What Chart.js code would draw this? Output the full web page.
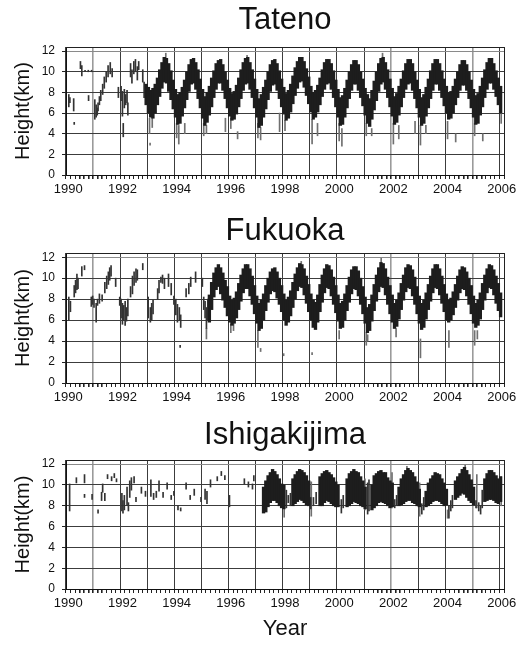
<!DOCTYPE html>
<html><head><meta charset="utf-8">
<script src="https://cdn.jsdelivr.net/npm/chart.js@4"></script>
<style>
body{margin:0;background:#fff;width:527px;height:646px;overflow:hidden;position:relative}
canvas{position:absolute;left:0}
</style></head>
<body>
<canvas id="c1" width="527" height="205" style="top:0px"></canvas>
<canvas id="c2" width="527" height="210" style="top:205px"></canvas>
<canvas id="c3" width="527" height="231" style="top:415px"></canvas>
<script>
// ---------- DATA (km) ----------
// monthly band [low, high] per year, Jan..Dec, null = no dense data
const tatenoYears = [1992,1993,1994,1995,1996,1997,1998,1999,2000,2001,2002,2003,2004,2005];
const tatenoLow = [
 [null,null,null,null,null,null,null,null,null,null,6.8,6.0],
 [5.6,5.5,6.0,6.8,7.6,8.4,9.0,8.9,8.1,7.3,6.4,5.6],
 [4.9,5.0,5.7,6.5,7.3,8.1,8.8,8.9,8.3,7.4,6.5,5.5],
 [4.8,5.1,5.8,6.6,7.5,8.3,8.9,8.9,8.2,7.4,6.5,5.7],
 [5.3,5.4,5.9,6.6,7.4,8.2,8.8,8.9,8.3,7.5,6.5,5.6],
 [4.6,4.8,5.6,6.4,7.3,8.1,8.7,8.8,8.2,7.4,6.6,5.9],
 [5.3,5.5,6.1,6.9,7.7,8.4,9.0,9.1,8.5,7.7,6.9,6.1],
 [5.4,5.6,6.1,6.8,7.6,8.3,8.8,8.9,8.3,7.5,6.6,5.6],
 [4.8,4.9,5.6,6.5,7.4,8.2,8.8,8.8,8.2,7.5,6.7,5.8],
 [5.0,4.7,5.4,6.3,7.2,8.1,8.8,9.0,8.3,7.5,6.6,5.7],
 [4.9,5.1,5.8,6.6,7.5,8.3,8.8,8.9,8.2,7.4,6.5,5.6],
 [4.8,5.0,5.7,6.5,7.4,8.2,8.8,8.8,8.2,7.5,6.7,6.0],
 [5.4,5.5,6.0,6.8,7.5,8.2,8.7,8.7,8.2,7.4,6.5,5.6],
 [4.9,5.0,5.8,6.6,7.5,8.3,8.9,8.9,8.3,7.6,6.8,6.0]
];
const tatenoHigh = [
 [null,null,null,null,null,null,null,null,null,null,8.8,8.5],
 [8.2,8.4,8.8,9.4,10.2,10.9,11.4,11.3,10.8,10.1,9.2,8.3],
 [7.8,8.0,8.5,9.2,10.0,10.7,11.2,11.3,10.9,10.2,9.3,8.3],
 [7.6,8.0,8.6,9.4,10.1,10.8,11.1,11.2,10.7,10.0,9.2,8.4],
 [7.9,8.1,8.7,9.4,10.2,10.9,11.3,11.4,10.9,10.2,9.3,8.3],
 [7.4,7.8,8.5,9.2,10.0,10.7,11.1,11.2,10.8,10.1,9.3,8.5],
 [7.9,8.2,8.8,9.6,10.4,11.0,11.4,11.4,11.0,10.3,9.5,8.6],
 [8.0,8.2,8.7,9.4,10.2,10.9,11.2,11.2,10.8,10.1,9.2,8.3],
 [7.5,7.7,8.4,9.2,10.0,10.7,11.1,11.1,10.7,10.0,9.3,8.4],
 [7.8,7.4,8.2,9.1,10.0,10.8,11.3,11.4,10.9,10.2,9.3,8.4],
 [7.6,7.9,8.6,9.3,10.1,10.8,11.2,11.2,10.8,10.0,9.2,8.3],
 [7.5,7.8,8.5,9.3,10.1,10.8,11.2,11.2,10.8,10.1,9.3,8.6],
 [8.0,8.1,8.6,9.3,10.0,10.7,11.1,11.1,10.7,10.0,9.2,8.3],
 [7.7,7.9,8.6,9.4,10.2,10.9,11.3,11.3,10.8,10.1,9.4,8.6]
];
// isolated soundings [time, low, high]
const tatenoSparse = [
 [1990.02,6.6,7.8],[1990.06,7.0,7.5],[1990.2,6.2,7.4],[1990.22,4.9,5.1],[1990.45,10.3,11.0],[1990.5,9.6,10.6],
 [1990.62,10.0,10.15],[1990.74,10.0,10.15],[1990.86,10.0,10.15],[1990.75,7.2,7.7],
 [1990.98,5.4,7.3],[1991.03,5.6,6.8],[1991.07,5.8,6.5],[1991.1,6.2,7.0],[1991.15,6.8,7.6],[1991.2,7.2,8.2],
 [1991.27,7.8,8.8],[1991.33,8.4,9.5],[1991.4,9.0,10.0],[1991.47,9.5,10.6],[1991.55,9.8,10.9],[1991.62,9.5,10.3],
 [1991.85,7.5,8.5],[1991.95,7.2,8.6],[1992.0,5.7,8.1],[1992.03,3.7,5.0],[1992.07,6.5,8.3],[1992.12,6.8,7.8],
 [1992.17,7.0,8.2],[1992.2,5.8,7.0],[1992.3,9.5,10.8],[1992.35,8.9,10.2],[1992.42,9.8,11.0],[1992.48,10.0,11.2],
 [1992.55,9.2,10.5],[1992.6,10.2,11.0],[1992.75,9.0,10.2],[1992.8,7.5,9.0]
];
const tatenoSpikes = [
 [1993.0,4.0,5.5],[1993.02,2.9,3.1],[1993.1,4.6,5.6],[1993.6,11.2,11.8],[1994.0,3.6,5.0],[1994.08,3.0,4.8],[1994.3,4.0,5.0],
 [1995.0,3.8,5.0],[1995.1,4.0,4.8],[1995.8,4.2,5.5],[1996.0,4.5,5.5],[1996.25,3.5,4.2],[1996.6,11.3,11.6],
 [1997.0,3.6,5.0],[1997.1,3.4,4.6],[1997.8,4.2,6.0],[1998.0,4.3,5.3],[1999.0,3.0,5.4],[1999.2,3.8,5.0],
 [2000.0,3.3,5.0],[2000.1,2.8,4.5],[2001.0,3.8,5.0],[2001.2,3.8,4.5],[2001.6,11.3,11.8],[2002.0,3.0,5.0],
 [2002.2,3.5,4.8],[2002.8,4.0,5.2],[2003.0,2.9,4.8],[2003.2,4.0,4.8],[2004.0,3.5,5.2],[2004.3,3.2,4.0],
 [2005.0,3.8,5.0],[2005.3,3.3,4.0],[2005.98,5.0,6.5]
];

const fukuokaYears = [1995,1996,1997,1998,1999,2000,2001,2002,2003,2004,2005];
const fukuokaLow = [
 [null,null,5.8,7.0,8.2,8.9,9.2,8.5,7.9,7.2,6.4,5.8],
 [5.5,5.7,6.2,7.0,7.8,8.6,9.0,9.0,8.3,7.5,6.6,5.7],
 [5.0,5.2,6.0,6.9,7.7,8.5,8.8,8.7,8.1,7.5,6.8,6.0],
 [5.5,5.8,6.4,7.2,8.0,8.8,9.2,9.1,8.4,7.6,6.8,6.0],
 [5.3,5.1,5.8,6.8,7.7,8.6,9.1,9.0,8.3,7.5,6.7,5.9],
 [5.2,5.3,6.0,6.9,7.7,8.5,9.0,8.9,8.3,7.5,6.6,5.7],
 [4.8,5.0,5.9,6.9,7.8,8.7,9.2,9.1,8.4,7.5,6.6,5.8],
 [5.2,5.4,6.1,7.0,7.9,8.7,9.1,9.0,8.3,7.5,6.6,5.7],
 [5.1,5.3,6.1,7.0,7.8,8.6,9.1,9.0,8.4,7.6,6.8,6.0],
 [5.8,6.0,6.5,7.2,7.9,8.6,9.0,8.9,8.3,7.5,6.6,5.7],
 [5.3,5.5,6.1,7.0,7.9,8.6,9.1,9.0,8.4,7.6,6.9,6.3]
];
const fukuokaHigh = [
 [null,null,8.4,9.6,10.5,11.0,11.3,11.0,10.5,9.8,9.2,8.3],
 [7.9,8.1,8.7,9.5,10.3,10.9,11.3,11.3,10.9,10.2,9.3,8.3],
 [7.6,7.9,8.5,9.3,10.0,10.6,10.9,11.0,10.6,10.0,9.3,8.5],
 [7.9,8.2,8.8,9.6,10.4,11.0,11.4,11.3,10.9,10.2,9.4,8.5],
 [7.9,7.7,8.4,9.4,10.3,10.9,11.3,11.2,10.8,10.1,9.3,8.4],
 [7.6,7.8,8.5,9.3,10.1,10.8,11.1,11.1,10.7,10.0,9.2,8.2],
 [7.2,7.5,8.4,9.4,10.3,11.0,11.5,11.4,10.9,10.1,9.3,8.4],
 [7.6,7.9,8.6,9.5,10.3,11.0,11.3,11.2,10.8,10.1,9.2,8.3],
 [7.6,7.9,8.6,9.4,10.2,10.9,11.3,11.3,10.9,10.2,9.4,8.5],
 [7.9,8.1,8.7,9.4,10.2,10.8,11.1,11.0,10.6,10.0,9.3,8.3],
 [7.6,7.9,8.6,9.5,10.3,10.9,11.3,11.2,10.8,10.2,9.5,8.6]
];
const fukuokaSparse = [
 [1990.02,6.0,8.2],[1990.08,6.8,7.8],[1990.22,8.2,9.3],[1990.27,8.6,9.8],[1990.32,8.9,10.4],[1990.36,9.0,10.0],
 [1990.5,10.2,11.1],[1990.6,10.8,11.2],[1990.85,7.3,8.2],[1990.9,7.5,8.3],[1990.95,7.2,8.0],[1991.03,5.8,7.6],
 [1991.08,7.4,8.0],[1991.15,7.6,8.5],[1991.25,7.8,8.4],[1991.35,8.6,9.6],[1991.42,9.0,10.2],[1991.48,9.4,10.6],
 [1991.53,9.8,11.0],[1991.58,10.2,11.2],[1991.75,9.2,10.0],[1991.9,7.4,8.2],[1991.95,6.2,8.0],[1992.0,5.6,7.6],
 [1992.05,6.0,7.4],[1992.1,5.5,7.8],[1992.15,5.9,7.2],[1992.2,6.4,8.0],[1992.3,8.2,9.2],[1992.37,8.5,10.2],
 [1992.43,9.3,10.6],[1992.5,9.6,10.9],[1992.55,9.8,10.8],[1992.75,10.8,11.4],[1992.95,6.2,8.2],[1993.03,5.8,7.2],
 [1993.08,6.0,7.6],[1993.13,6.6,7.9],[1993.3,8.0,9.0],[1993.35,8.6,9.8],[1993.42,9.6,10.1],[1993.48,9.5,10.3],
 [1993.55,9.0,10.0],[1993.7,9.2,10.4],[1993.8,8.4,9.5],[1993.9,7.5,8.3],[1993.97,6.5,8.0],[1994.03,5.8,7.5],
 [1994.1,6.0,7.2],[1994.15,5.3,6.5],[1994.13,3.4,3.6],[1994.35,8.2,9.0],[1994.45,8.5,9.5],[1994.52,9.2,10.1],
 [1994.7,9.6,10.6],[1994.95,9.2,10.0],[1995.0,7.0,8.2],[1995.05,6.2,7.8],[1995.1,5.2,7.2],[1995.15,6.0,8.0]
];
const fukuokaSpikes = [
 [1995.1,4.2,5.2],[1996.0,4.8,5.6],[1996.1,5.0,5.8],[1997.0,3.4,5.0],[1997.1,3.0,3.3],[1997.95,2.6,2.8],
 [1998.6,11.3,11.6],[1999.0,2.7,2.9],[2000.0,4.2,5.0],[2001.0,3.6,4.8],[2001.05,4.0,4.6],[2001.55,11.4,11.9],
 [2002.1,4.4,5.2],[2003.0,2.4,4.2],[2004.05,3.4,5.0],[2005.0,3.6,5.0],[2005.1,4.2,5.0]
];

const ishigakiYears = [1997,1998,1999,2000,2001,2002,2003,2004,2005];
const ishigakiLow = [
 [null,null,7.3,7.4,7.9,8.3,8.5,8.5,8.3,8.0,7.8,7.7],
 [null,null,null,8.0,8.2,8.4,8.6,8.5,8.3,8.1,8.0,null],
 [null,null,null,8.0,8.0,8.3,8.5,8.4,8.2,8.0,7.9,7.9],
 [null,null,null,7.9,8.0,8.2,8.4,8.3,8.2,8.0,7.9,7.7],
 [null,null,7.6,7.8,8.0,8.3,8.4,8.3,8.2,8.0,7.8,7.9],
 [null,null,8.0,8.1,8.2,8.4,8.5,8.5,8.3,8.2,8.0,7.9],
 [null,null,7.9,8.0,8.2,8.4,8.5,8.5,8.4,8.2,8.0,8.1],
 [null,null,null,8.6,8.8,9.0,9.2,9.1,8.8,8.5,8.3,8.1],
 [null,null,null,null,8.4,8.5,8.6,8.6,8.5,8.3,8.2,8.4]
];
const ishigakiHigh = [
 [null,null,9.8,10.4,10.9,11.2,11.5,11.3,11.0,10.6,10.1,10.0],
 [null,null,null,10.6,11.0,11.3,11.5,11.4,11.2,10.9,10.4,null],
 [null,null,null,10.8,11.1,11.3,11.4,11.2,11.0,10.7,10.3,10.0],
 [null,null,null,10.6,11.1,11.3,11.5,11.3,11.2,10.8,10.4,9.8],
 [null,null,10.0,10.9,11.1,11.3,11.4,11.2,11.2,10.7,10.4,10.2],
 [null,null,9.8,10.6,11.0,11.4,11.6,11.4,11.2,10.8,10.3,9.6],
 [null,null,9.4,10.2,10.6,10.9,11.2,11.1,11.0,10.6,10.2,9.6],
 [null,null,null,10.4,10.8,11.1,11.5,11.7,11.4,11.0,10.5,9.8],
 [null,null,null,null,10.6,11.1,11.4,11.4,11.2,10.9,10.6,10.8]
];
const ishigakiSparse = [
 [1990.05,7.5,10.1],[1990.3,10.2,10.7],[1990.6,10.2,11.0],[1990.6,8.8,9.1],[1990.88,8.6,9.1],[1991.1,7.3,7.6],
 [1991.23,8.5,9.3],[1991.27,9.3,10.1],[1991.35,8.5,9.2],[1991.45,10.6,11.0],[1991.6,10.4,10.8],[1991.7,10.7,11.1],
 [1991.78,10.3,10.6],[1991.98,7.5,9.2],[1992.02,7.3,8.5],[1992.07,7.6,9.0],[1992.17,8.0,9.8],[1992.22,7.5,8.3],
 [1992.27,8.8,10.4],[1992.33,9.5,10.7],[1992.43,10.2,10.8],[1992.5,8.4,8.8],[1992.7,9.2,9.8],[1992.85,8.9,9.4],
 [1993.05,8.9,10.5],[1993.15,8.6,9.2],[1993.25,8.8,9.4],[1993.35,9.4,10.4],[1993.5,8.8,9.3],[1993.65,9.6,10.2],
 [1993.8,8.6,9.0],[1993.9,9.0,9.4],[1994.05,7.6,8.0],[1994.15,7.5,7.8],[1994.35,9.6,10.2],[1994.5,8.6,9.0],
 [1994.65,9.0,9.6],[1994.9,8.4,8.8],[1995.05,8.6,9.6],[1995.12,8.2,9.4],[1995.25,9.8,10.5],[1995.5,10.4,10.8],
 [1995.65,10.9,11.3],[1995.78,10.5,10.9],[1995.95,7.9,9.0],[1996.5,10.1,10.6],[1996.65,9.8,10.3],[1996.8,9.6,10.1],
 [1996.85,10.4,10.9],
 [1998.05,7.8,9.5],[1998.12,8.3,9.0],[1998.2,8.0,9.2],[1998.95,7.7,8.8],[1999.05,8.0,8.8],[1999.15,8.2,9.3],
 [2000.08,7.3,8.6],[2000.15,7.8,9.0],[2001.05,7.2,10.2],[2001.1,7.5,10.5],[2002.05,7.8,8.6],[2002.12,8.0,9.0],
 [2003.05,7.2,8.2],[2003.12,7.6,8.8],[2004.05,6.8,8.0],[2004.12,7.5,8.5],[2004.18,7.8,9.0],[2005.05,7.8,8.5],
 [2005.15,7.5,8.3],[2005.22,7.2,8.0],[2005.28,7.8,9.5]
];
const ishigakiSpikes = [
 [1997.97,6.9,7.8],[1998.97,7.0,10.3],[2000.95,7.6,10.6],[2001.95,7.8,11.2],[2002.5,11.0,11.8],
 [2002.97,7.0,10.2],[2004.0,6.8,7.6],[2004.65,11.0,11.9],[2005.08,7.8,11.0],[2005.98,8.0,10.8]
];

const yTickValues = [0,1,2,3,4,5,6,7,8,9,10,11,12];
const yearLabels = [1990,1992,1994,1996,1998,2000,2002,2004,2006];

// ---------- CHART BUILDING ----------
const FONT = '"Liberation Sans", Arial, Helvetica, sans-serif';
Chart.defaults.font.family = FONT;
Chart.defaults.color = '#111';

const xTickValues = [];
for (let y = 1990; y <= 2006; y++) for (let k = 0; k < 6; k++) { const v = y + k / 6; if (v <= 2006 + 1e-9) xTickValues.push(v); }

function bandPoints(years, low, high) {
  const pts = [];
  years.forEach((yr, i) => low[i].forEach((lo, m) => {
    if (lo !== null && high[i][m] !== null) pts.push({x: yr + (m + 0.5) / 12, y: [lo, high[i][m]]});
  }));
  return pts;
}
function segPoints(list) { return list.map(s => ({x: s[0], y: [s[1], s[2]]})); }

const lightYears = [1991, 2002, 2005];
const framePlugin = {
  id: 'frame',
  afterDraw(chart) {
    const {ctx, chartArea: a} = chart;
    ctx.save();
    ctx.strokeStyle = '#222'; ctx.lineWidth = 1;
    ctx.beginPath();
    ctx.moveTo(a.left, Math.round(a.top) + 0.5);
    ctx.lineTo(Math.round(a.right) + 0.5, Math.round(a.top) + 0.5);
    ctx.lineTo(Math.round(a.right) + 0.5, a.bottom);
    ctx.stroke();
    ctx.restore();
  }
};

function makeChart(id, title, tPad, years, low, high, sparse, spikes, xHeight, showX) {
  new Chart(document.getElementById(id), {
    type: 'bar',
    data: {
      datasets: [
        {data: bandPoints(years, low, high), backgroundColor: '#1d1d1d', barThickness: 2.7, grouped: false, borderWidth: 0},
        {data: segPoints(sparse), backgroundColor: '#333333', barThickness: 1, minBarLength: 1.5, grouped: false, borderWidth: 0},
        {data: segPoints(spikes), backgroundColor: '#707070', barThickness: 1, minBarLength: 1.5, grouped: false, borderWidth: 0}
      ]
    },
    options: {
      responsive: false, animation: false, devicePixelRatio: 1,
      layout: {padding: {left: 0, right: 23, top: 0, bottom: 0}},
      plugins: {
        legend: {display: false}, tooltip: {enabled: false},
        title: {display: true, text: title, fullSize: false, color: '#111',
                font: {size: 31, weight: 'normal', lineHeight: 1}, padding: tPad}
      },
      scales: {
        x: {
          type: 'linear', min: 1990, max: 2006,
          afterBuildTicks: s => { s.ticks = xTickValues.map(v => ({value: v})); },
          afterFit: s => { s.height = xHeight; },
          ticks: {autoSkip: false, maxRotation: 0, minRotation: 0, padding: 3, color: '#111', font: {size: 13},
            callback: v => { const r = Math.round(v); return (Math.abs(v - r) < 1e-6 && yearLabels.includes(r)) ? String(r) : ''; }},
          grid: {
            color: c => { const v = c.tick ? c.tick.value : 0; const r = Math.round(v);
              if (Math.abs(v - r) > 1e-6) return 'rgba(0,0,0,0)';
              return lightYears.includes(r) ? '#9a9a9a' : '#3c3c3c'; },
            lineWidth: c => { const v = c.tick ? c.tick.value : 0; const r = Math.round(v); return lightYears.includes(r) ? 1.6 : 1; },
            tickColor: '#222', tickLength: 4, drawTicks: true
          },
          border: {display: true, color: '#111', width: 1},
          title: showX ? {display: true, text: 'Year', color: '#111', font: {size: 22}, padding: {top: 0, bottom: 4}} : {display: false}
        },
        y: {
          min: 0, max: 12.4,
          afterBuildTicks: s => { s.ticks = yTickValues.map(v => ({value: v})); },
          afterFit: s => { s.width = 66; },
          ticks: {padding: 7, color: '#111', font: {size: 12},
            callback: v => (v % 2 === 0 ? String(v) : '')},
          grid: {
            color: c => { const v = c.tick ? c.tick.value : 0; if (v % 2 !== 0) return 'rgba(0,0,0,0)'; return v === 12 ? '#8a8a8a' : '#3c3c3c'; },
            tickColor: '#222', tickLength: 4
          },
          border: {display: true, color: '#111', width: 1},
          title: {display: true, text: 'Height(km)', color: '#111', font: {size: 20}, padding: {top: 11, bottom: 4}}
        }
      }
    },
    plugins: [framePlugin]
  });
}

makeChart('c1', 'Tateno', {top: 5, bottom: 11}, tatenoYears, tatenoLow, tatenoHigh, tatenoSparse, tatenoSpikes, 30, false);
makeChart('c2', 'Fukuoka', {top: 11, bottom: 6}, fukuokaYears, fukuokaLow, fukuokaHigh, fukuokaSparse, fukuokaSpikes, 32, false);
makeChart('c3', 'Ishigakijima', {top: 5, bottom: 9}, ishigakiYears, ishigakiLow, ishigakiHigh, ishigakiSparse, ishigakiSpikes, 57, true);
</script>
</body></html>
